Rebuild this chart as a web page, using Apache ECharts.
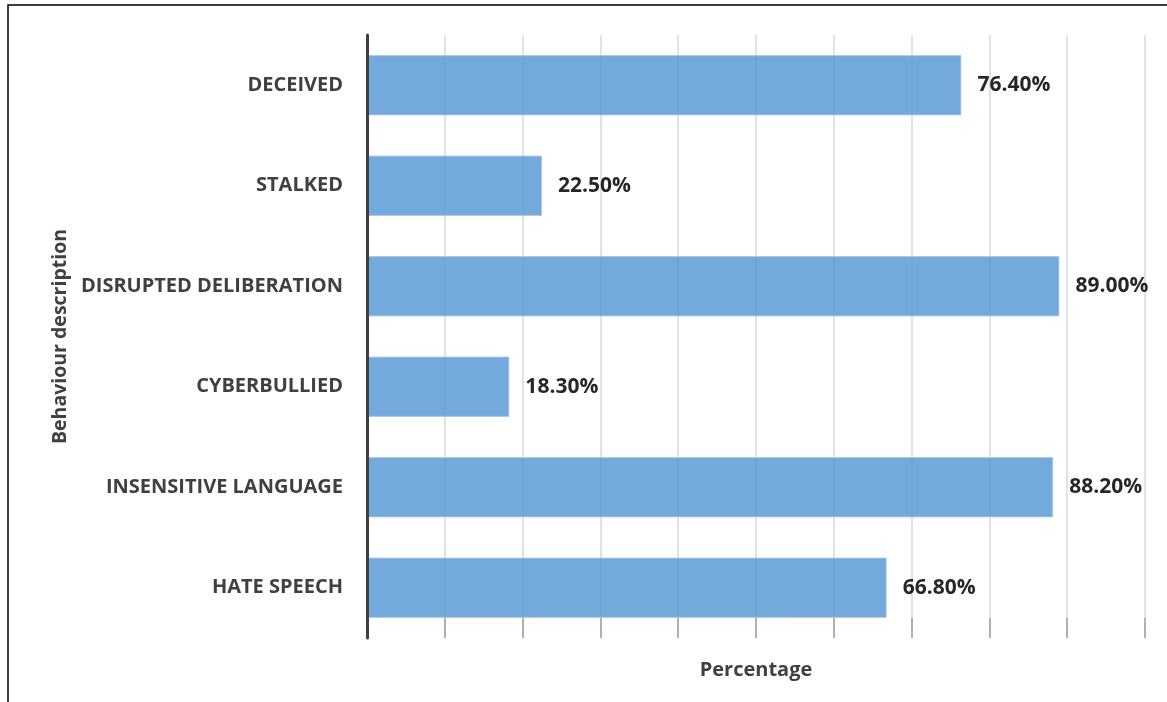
<!DOCTYPE html>
<html>
<head>
<meta charset="utf-8">
<script src="https://cdn.jsdelivr.net/npm/echarts@6/dist/echarts.min.js"></script>
<style>
  html, body { margin: 0; padding: 0; background: #fff; }
  #chart-container { width: 1167px; height: 702px; }
</style>
</head>
<body>
<div id="chart-container"></div>
<script>
const categories = ['DECEIVED', 'STALKED', 'DISRUPTED DELIBERATION', 'CYBERBULLIED', 'INSENSITIVE LANGUAGE', 'HATE SPEECH'];
const percentages = [76.4, 22.5, 89.0, 18.3, 88.2, 66.8];

const chartDom = document.getElementById('chart-container');
const myChart = echarts.init(chartDom);

const fontName = '"Open Sans", sans-serif';

const option = {
    animation: false,
    grid: { left: 367, right: 22, top: 35, bottom: 64 },
    xAxis: {
        type: 'value',
        min: 0,
        max: 100,
        interval: 10,
        name: 'Percentage',
        nameLocation: 'middle',
        nameGap: 22,
        nameTextStyle: { fontFamily: fontName, fontWeight: 'bold', fontSize: 20, color: '#404040' },
        axisLine: { show: false },
        axisLabel: { show: false },
        axisTick: { show: true, inside: true, length: 20, lineStyle: { color: '#a0a0a0', width: 1.5 } },
        splitLine: { show: true, lineStyle: { color: '#d9d9d9', width: 1.5 } }
    },
    yAxis: {
        type: 'category',
        inverse: true,
        z: 5,
        data: categories,
        name: 'Behaviour description',
        nameLocation: 'middle',
        nameGap: 296,
        nameRotate: 90,
        nameTextStyle: { fontFamily: fontName, fontWeight: 'bold', fontSize: 19.5, color: '#404040' },
        axisLine: { show: true, lineStyle: { color: '#404040', width: 3 } },
        axisTick: { show: false },
        axisLabel: { fontFamily: fontName, fontWeight: 'bold', fontSize: 20, color: '#404040', margin: 24 }
    },
    series: [{
        type: 'bar',
        data: percentages,
        barCategoryGap: '40%',
        itemStyle: { color: '#5b9bd5', opacity: 0.85, borderColor: '#a9c9e8', borderWidth: 1 },
        label: {
            show: true,
            position: 'right',
            distance: 16,
            fontFamily: fontName,
            fontWeight: 'bold',
            fontSize: 21,
            color: '#000',
            formatter: p => p.value.toFixed(2) + '%'
        }
    }],
    graphic: [{
        type: 'rect',
        shape: { x: 8, y: 5, width: 1300, height: 900 },
        style: { fill: 'none', stroke: '#000', lineWidth: 1.5 },
        silent: true
    }]
};

myChart.setOption(option);
window.addEventListener('resize', () => myChart.resize());
</script>
</body>
</html>
